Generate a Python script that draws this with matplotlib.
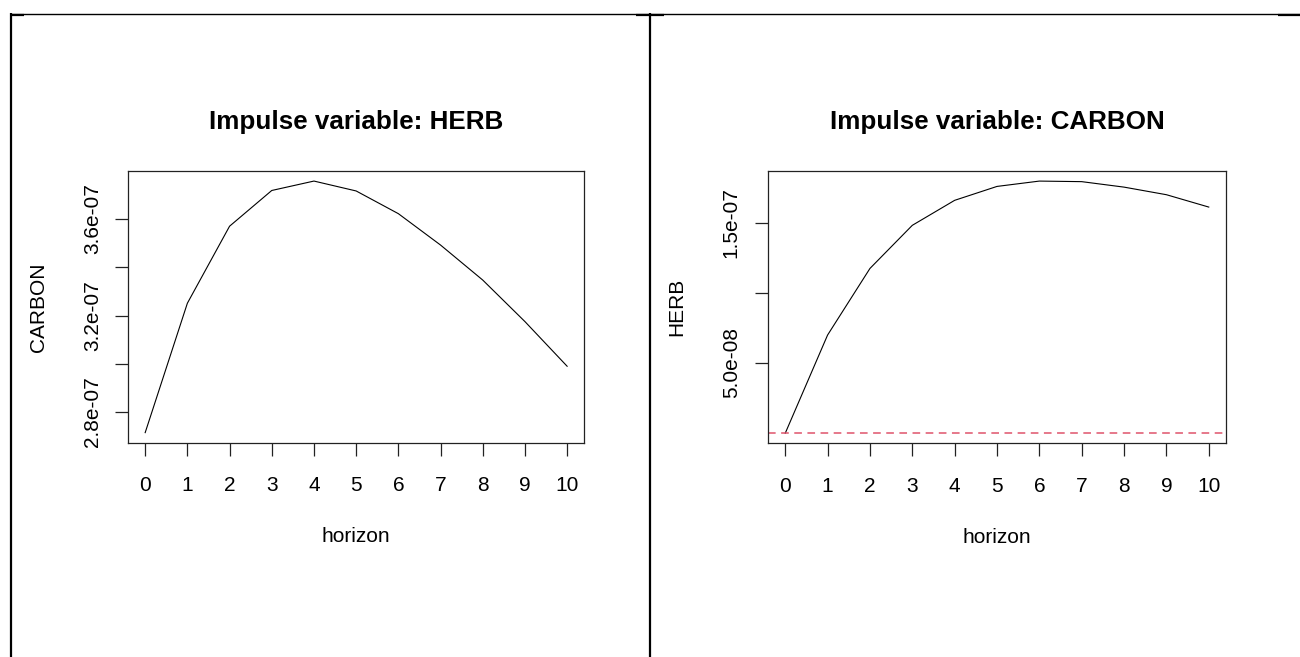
import matplotlib
matplotlib.use("Agg")
import matplotlib.pyplot as plt
from matplotlib.lines import Line2D

plt.rcParams['font.family'] = ['Liberation Sans', 'DejaVu Sans']

# ---- data ----
horizon = [0, 1, 2, 3, 4, 5, 6, 7, 8, 9, 10]
carbon_resp_herb = [2.715e-7, 3.251e-7, 3.570e-7, 3.718e-7, 3.757e-7, 3.716e-7,
                    3.622e-7, 3.492e-7, 3.347e-7, 3.175e-7, 2.990e-7]
herb_resp_carbon = [0.0, 6.99e-8, 1.173e-7, 1.480e-7, 1.658e-7, 1.757e-7,
                    1.795e-7, 1.791e-7, 1.752e-7, 1.698e-7, 1.610e-7]
left_yticks = [2.8e-7, 3.0e-7, 3.2e-7, 3.4e-7, 3.6e-7]
left_yticklabels = ['2.8e-07', '', '3.2e-07', '', '3.6e-07']
right_yticks = [5e-8, 1e-7, 1.5e-7]
right_yticklabels = ['5.0e-08', '', '1.5e-07']
titles = ['Impulse variable: HERB', 'Impulse variable: CARBON']
ylabels = ['CARBON', 'HERB']
xlabel = 'horizon'

W, H = 1300, 657
fig = plt.figure(figsize=(W / 100, H / 100), dpi=100)
fig.patch.set_facecolor('white')


def px_rect(x0, y0, x1, y1):
    return [x0 / W, (H - y1) / H, (x1 - x0) / W, (y1 - y0) / H]


def rlim(vals):
    lo, hi = min(vals), max(vals)
    pad = 0.04 * (hi - lo)
    return lo - pad, hi + pad


panels = [
    dict(rect=px_rect(128.3, 171, 584, 442.7), y=carbon_resp_herb,
         ticks=left_yticks, labels=left_yticklabels, ylab_x=38.3, ypad=9.5),
    dict(rect=px_rect(768.3, 171, 1225.7, 443.3), y=herb_resp_carbon,
         ticks=right_yticks, labels=right_yticklabels, ylab_x=676.7, ypad=10.5),
]

for i, p in enumerate(panels):
    ax = fig.add_axes(p['rect'])
    ax.plot(horizon, p['y'], color='black', lw=0.8)
    ax.axhline(0, color='#DF536B', lw=1.1, linestyle=(0, (5, 3.6)))
    ax.set_xlim(*rlim(horizon))
    ax.set_ylim(*rlim(p['y']))
    ax.set_xticks(horizon)
    ax.set_xticklabels([str(h) for h in horizon])
    ax.set_yticks(p['ticks'])
    ax.set_yticklabels(p['labels'])
    for s in ax.spines.values():
        s.set_linewidth(0.9)
        s.set_color('#222222')
    ax.tick_params(axis='both', length=9.4, width=0.9, color='#222222',
                   labelsize=15, labelcolor='black')
    ax.tick_params(axis='x', pad=14.8)
    ax.tick_params(axis='y', pad=p['ypad'], labelrotation=90)
    for lab in ax.get_yticklabels():
        lab.set_va('center')
    ax.set_title(titles[i], fontsize=18.7, fontweight='bold', y=1.181,
                 va='center', pad=0)
    ax.set_xlabel(xlabel, fontsize=15)
    ax.xaxis.set_label_coords(0.5, -0.346)
    ax.xaxis.label.set_va('center')
    ax.set_ylabel(ylabels[i], fontsize=15)
    axw = p['rect'][2] * W
    ax_left = p['rect'][0] * W
    ax.yaxis.set_label_coords((p['ylab_x'] - ax_left) / axw, 0.5)
    ax.yaxis.label.set_va('center')


# ---- table frame (document borders) ----
def fline(x0, y0, x1, y1, lw):
    fig.add_artist(Line2D([x0 / W, x1 / W], [1 - y0 / H, 1 - y1 / H],
                          transform=fig.transFigure, color='black', lw=lw,
                          solid_capstyle='butt'))


fline(10.5, 13.5, 1300, 13.5, 1.0)
fline(11, 13, 11, 657, 1.6)
fline(649.5, 13, 649.5, 657, 1.6)
fline(11, 14.5, 24, 14.5, 1.6)
fline(636, 14.5, 664, 14.5, 1.6)
fline(1278, 14.5, 1300, 14.5, 1.6)

fig.savefig('out.png', dpi=100, facecolor='white')
